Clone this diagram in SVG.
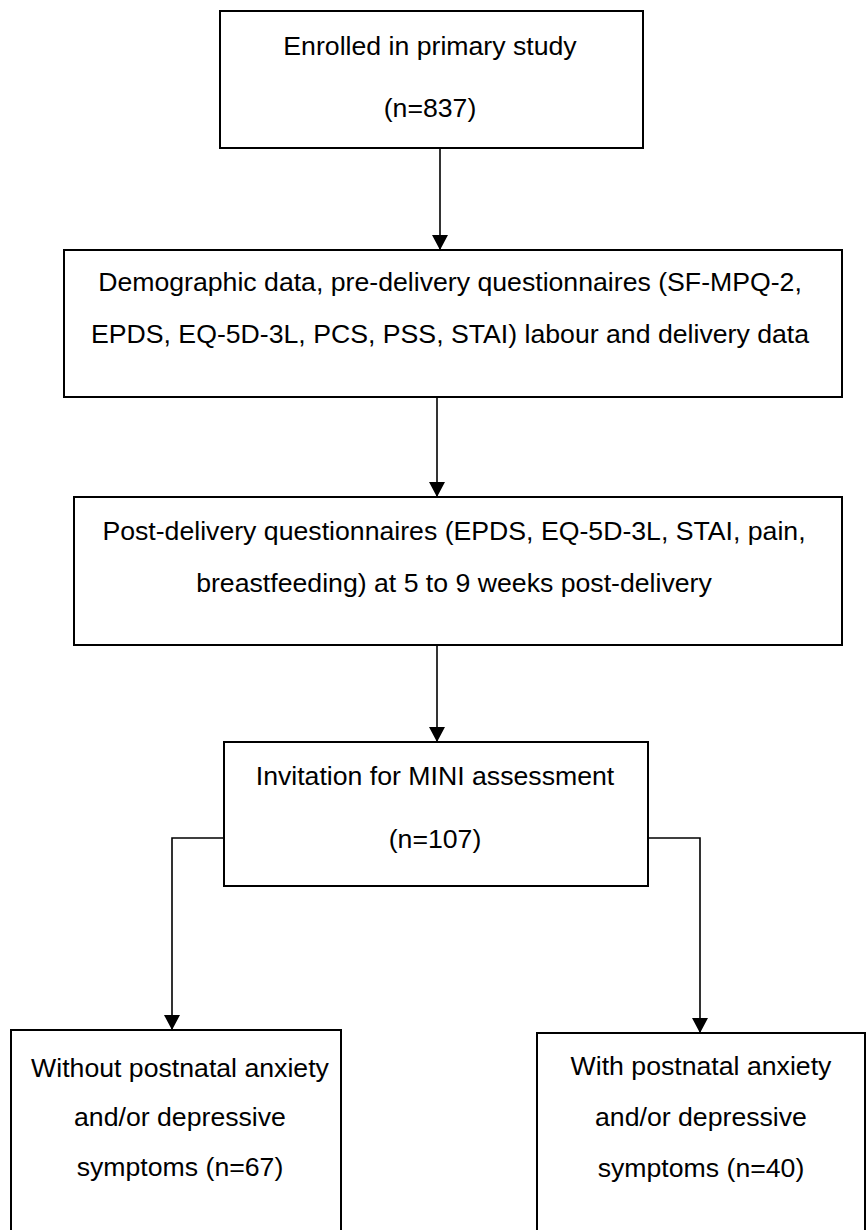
<svg xmlns="http://www.w3.org/2000/svg" width="867" height="1230" viewBox="0 0 867 1230">
<style>
.box{fill:#fff;stroke:#000;stroke-width:2}
.t{font-family:"Liberation Sans",Arial,sans-serif;font-size:26.67px;fill:#000;text-anchor:middle}
.c{fill:none;stroke:#000;stroke-width:1.6}
</style>
<defs>
<marker id="ah" viewBox="0 0 15 16" refX="15" refY="8" markerWidth="15" markerHeight="16" markerUnits="userSpaceOnUse" orient="auto">
<path d="M0,0 L15,8 L0,16 z" fill="#000"/>
</marker>
</defs>
<rect width="867" height="1230" fill="#fff"/>
<g id="connectors">
<line class="c" x1="440" y1="148" x2="440" y2="250" marker-end="url(#ah)"/>
<line class="c" x1="437" y1="397" x2="437" y2="497" marker-end="url(#ah)"/>
<line class="c" x1="437" y1="645" x2="437" y2="742" marker-end="url(#ah)"/>
<polyline class="c" points="224,838 172,838 172,1030" marker-end="url(#ah)"/>
<polyline class="c" points="648,838 700,838 700,1033" marker-end="url(#ah)"/>
</g>
<g id="enrolled">
<rect class="box" x="220" y="11" width="423" height="137"/>
<text class="t" x="430" y="55">Enrolled in primary study</text>
<text class="t" x="430" y="117">(n=837)</text>
</g>
<g id="predelivery">
<rect class="box" x="64" y="250" width="778" height="147"/>
<text class="t" x="450" y="291">Demographic data, pre-delivery questionnaires (SF-MPQ-2,</text>
<text class="t" x="450" y="343">EPDS, EQ-5D-3L, PCS, PSS, STAI) labour and delivery data</text>
</g>
<g id="postdelivery">
<rect class="box" x="74" y="497" width="768" height="148"/>
<text class="t" x="454" y="540">Post-delivery questionnaires (EPDS, EQ-5D-3L, STAI, pain,</text>
<text class="t" x="454" y="592">breastfeeding) at 5 to 9 weeks post-delivery</text>
</g>
<g id="mini">
<rect class="box" x="224" y="742" width="424" height="144"/>
<text class="t" x="435" y="785">Invitation for MINI assessment</text>
<text class="t" x="435" y="848">(n=107)</text>
</g>
<g id="without">
<rect class="box" x="11" y="1030" width="330" height="230"/>
<text class="t" x="180" y="1077">Without postnatal anxiety</text>
<text class="t" x="180" y="1126">and/or depressive</text>
<text class="t" x="180" y="1176">symptoms (n=67)</text>
</g>
<g id="with">
<rect class="box" x="537" y="1033" width="328" height="230"/>
<text class="t" x="701" y="1075">With postnatal anxiety</text>
<text class="t" x="701" y="1126">and/or depressive</text>
<text class="t" x="701" y="1177">symptoms (n=40)</text>
</g>
</svg>
